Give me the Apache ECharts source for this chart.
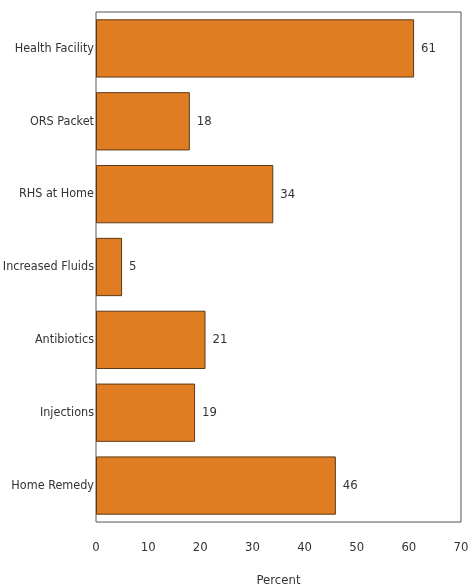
<!DOCTYPE html>
<html>
<head>
<meta charset="utf-8">
<script src="https://cdn.jsdelivr.net/npm/echarts@6/dist/echarts.min.js"></script>
<style>
	html, body { margin: 0; padding: 0; background: #fff; }
	#chart { width: 471px; height: 588px; }
</style>
</head>
<body>
<div id="chart"></div>
<script>
// categories from bottom to top (category axis starts at the bottom)
var categories = ['Home Remedy', 'Injections', 'Antibiotics', 'Increased Fluids', 'RHS at Home', 'ORS Packet', 'Health Facility'];
var percents = [46, 19, 21, 5, 34, 18, 61];
var xTicks = [0, 10, 20, 30, 40, 50, 60, 70];

var font = '"Liberation Sans Narrow", "DejaVu Sans Condensed", "Roboto", sans-serif';

var myChart = echarts.init(document.getElementById('chart'));

var option = {
	backgroundColor: '#fff',
	animation: false,
	grid: {
		left: 96,
		right: 10,
		top: 12,
		bottom: 66,
		outerBoundsMode: 'none',
		show: true,
		borderColor: '#555',
		borderWidth: 1
	},
	xAxis: {
		type: 'value',
		min: xTicks[0],
		max: xTicks[xTicks.length - 1],
		interval: 10,
		name: 'Percent',
		nameLocation: 'middle',
		nameGap: 52,
		nameTextStyle: { color: '#333', fontSize: 13, fontFamily: font },
		axisLine: { show: false },
		axisTick: { show: false },
		splitLine: { show: false },
		axisLabel: { color: '#333', fontSize: 13, fontFamily: font, margin: 19 }
	},
	yAxis: {
		type: 'category',
		data: categories,
		axisLine: { show: false },
		axisTick: { show: false },
		axisLabel: { color: '#333', fontSize: 12.5, fontFamily: font, margin: 2 }
	},
	series: [{
		type: 'bar',
		data: percents,
		barWidth: '80%',
		itemStyle: {
			color: '#E07C22',
			borderColor: '#5b3a17',
			borderWidth: 1
		},
		label: {
			show: true,
			position: 'right',
			distance: 7,
			color: '#333',
			fontSize: 13,
			fontFamily: font
		}
	}]
};

myChart.setOption(option);
window.addEventListener('resize', function() {
	myChart.resize();
});
</script>
</body>
</html>
